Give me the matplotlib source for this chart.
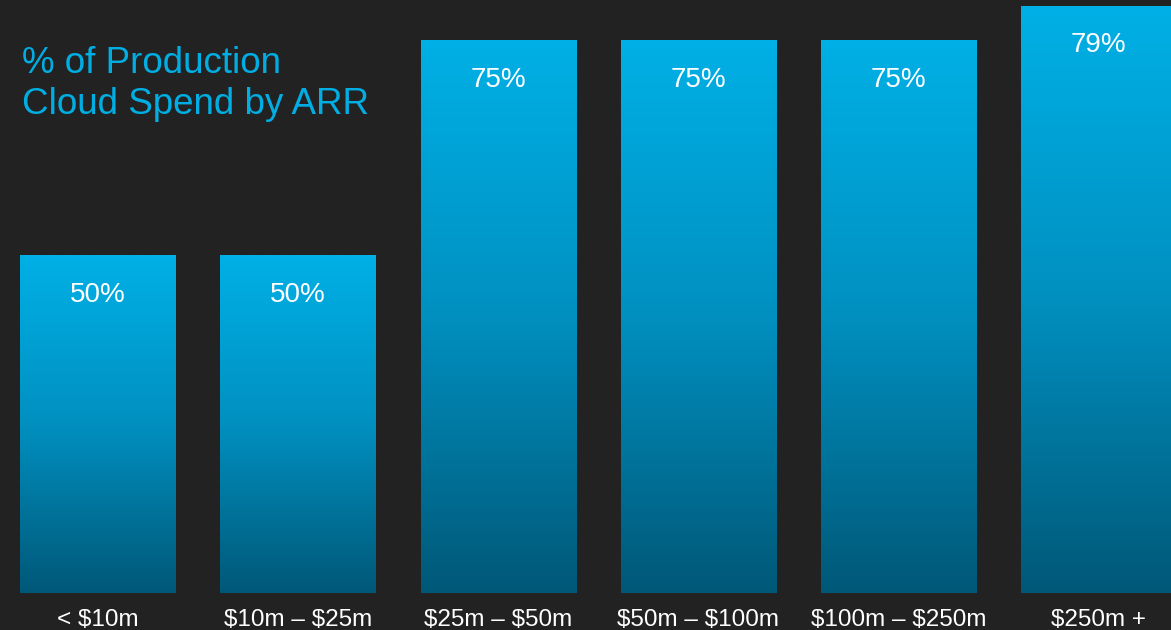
import numpy as np
import matplotlib.pyplot as plt
from matplotlib.colors import LinearSegmentedColormap

# data
categories = ['< $10m', '$10m – $25m', '$25m – $50m', '$50m – $100m', '$100m – $250m', '$250m +']
values = [50, 50, 75, 75, 75, 79]
title = '% of Production\nCloud Spend by ARR'

BG = '#222222'
CYAN = '#00aee3'
grad = LinearSegmentedColormap.from_list('bar', ['#005878', '#0090c0', '#00b0e6'])

plt.rcParams['font.family'] = ['Liberation Sans', 'DejaVu Sans']
plt.rcParams['text.parse_math'] = False

fig = plt.figure(figsize=(11.71, 6.3), dpi=100, facecolor=BG)
ax = fig.add_axes([0, 37 / 630, 1, 593 / 630])
ax.set_facecolor(BG)

x = np.arange(len(values))
width = 0.774
ybase = 10.7
bars = ax.bar(x, np.array(values) - ybase, bottom=ybase, width=width, color='none', edgecolor='none')

g = np.linspace(0, 1, 256).reshape(-1, 1)
for bar, v, xi in zip(bars, values, x):
    im = ax.imshow(g, cmap=grad, origin='lower', aspect='auto',
                   extent=[xi - width / 2, xi + width / 2, ybase, v], zorder=2)
    im.set_clip_path(bar)
    ax.text(xi, v - 4.6, f'{v}%', color='white', fontsize=20, ha='center', va='center', zorder=3)

ax.set_xlim(-0.487, 5.36)
ax.set_ylim(ybase, 79.65)
ax.set_xticks(x, categories)
ax.tick_params(axis='x', length=0, pad=11.5, labelsize=17.5, labelcolor='white')
ax.set_yticks([])
for s in ax.spines.values():
    s.set_visible(False)

fig.text(22 / 1171, 1 - 46 / 630, title, color=CYAN, fontsize=26.5, ha='left', va='top', linespacing=1.22)

fig.savefig('out.png', dpi=100, facecolor=BG)
